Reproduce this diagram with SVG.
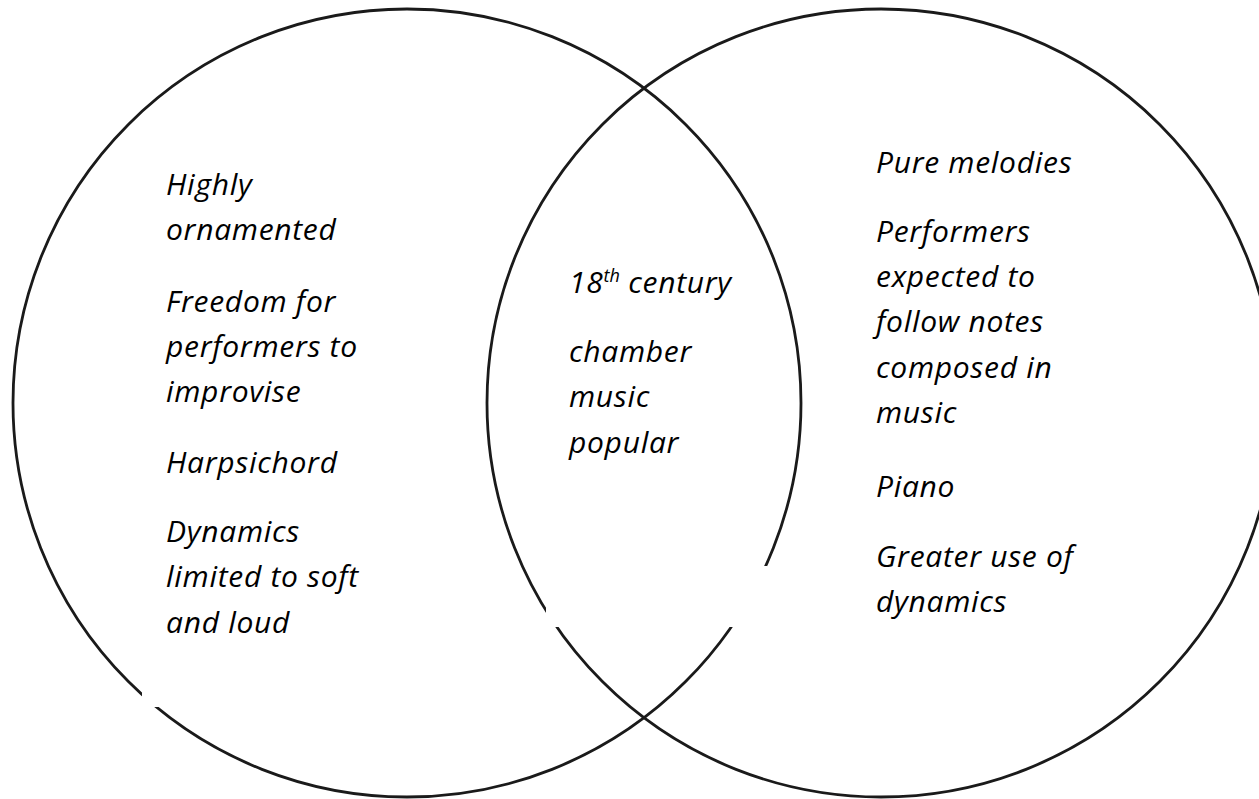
<svg xmlns="http://www.w3.org/2000/svg" width="1259" height="799" viewBox="0 0 1259 799">
<style>
.circle{fill:none;stroke:#1a1a1a;stroke-width:2.8}
.t{font-family:"Open Sans",Lato,"Liberation Sans",sans-serif;font-style:italic;font-weight:500;font-size:30px;letter-spacing:0.7px;fill:#000}
.sup{font-size:18px;letter-spacing:0}
.mask{fill:#fff;stroke:none}
</style>
<rect width="1259" height="799" fill="#fff"/>
<g id="connectors">
<circle id="left-circle" class="circle" cx="407" cy="403" r="394"/>
<circle id="right-circle" class="circle" cx="881" cy="403" r="394"/>
<rect class="mask" x="142" y="670" width="40" height="37"/>
<rect class="mask" x="546" y="566" width="221" height="61"/>
</g>
<g id="node-left">
<text class="t" x="166" y="195">Highly</text>
<text class="t" x="166" y="240">ornamented</text>
<text class="t" x="166" y="312">Freedom for</text>
<text class="t" x="166" y="357">performers to</text>
<text class="t" x="166" y="402">improvise</text>
<text class="t" x="166" y="473">Harpsichord</text>
<text class="t" x="166" y="542">Dynamics</text>
<text class="t" x="166" y="587">limited to soft</text>
<text class="t" x="166" y="633">and loud</text>
</g>
<g id="node-center">
<text class="t" x="569" y="293">18<tspan class="sup" dy="-11">th</tspan><tspan dy="11"> century</tspan></text>
<text class="t" x="569" y="362">chamber</text>
<text class="t" x="569" y="407">music</text>
<text class="t" x="569" y="453">popular</text>
</g>
<g id="node-right">
<text class="t" x="876" y="173">Pure melodies</text>
<text class="t" x="876" y="242">Performers</text>
<text class="t" x="876" y="287">expected to</text>
<text class="t" x="876" y="332">follow notes</text>
<text class="t" x="876" y="378">composed in</text>
<text class="t" x="876" y="423">music</text>
<text class="t" x="876" y="497">Piano</text>
<text class="t" x="876" y="567">Greater use of</text>
<text class="t" x="876" y="612">dynamics</text>
</g>
</svg>
